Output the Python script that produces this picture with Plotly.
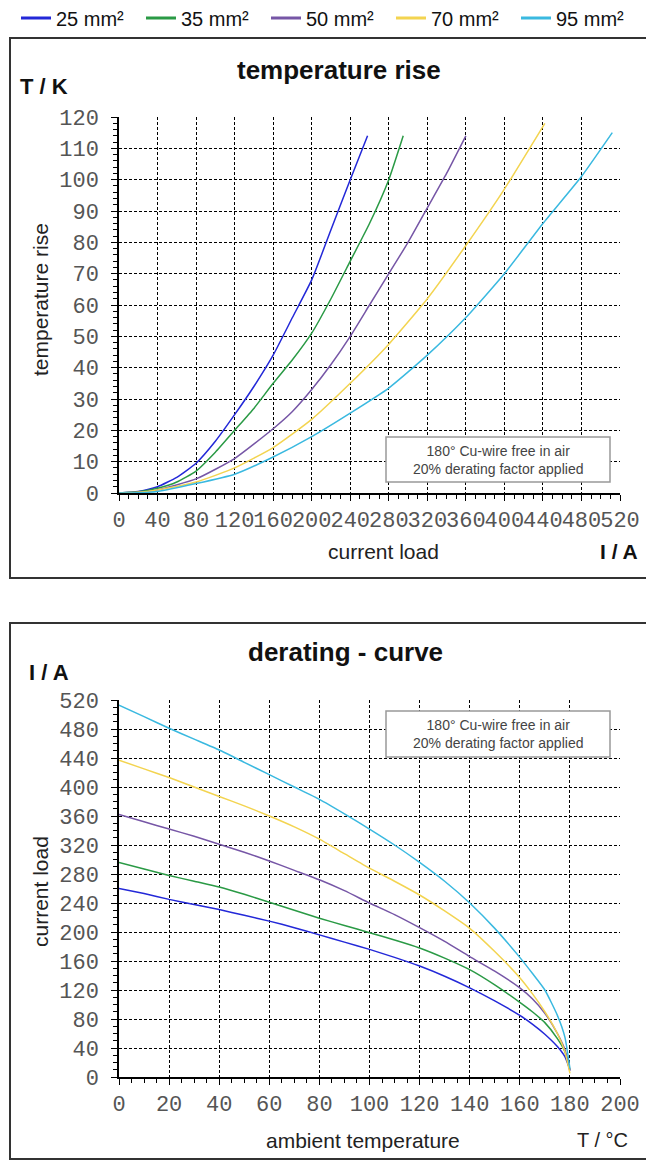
import plotly.graph_objects as go

# ---------------- data ----------------
series_names = ["25 mm²", "35 mm²", "50 mm²", "70 mm²", "95 mm²"]
series_colors = ["#2328d8", "#2a9a45", "#7656a6", "#f3d450", "#3ab9e0"]

# temperature rise (K) vs current load (A)
rise_25_x = [0, 20, 40, 60, 80, 100, 120, 140, 160, 180, 200, 220, 240, 258]
rise_25_y = [0, 0.5, 2, 5, 9.5, 16.5, 25, 34, 44, 56, 68, 84, 100, 114]
rise_35_x = [0, 20, 40, 60, 80, 100, 120, 140, 160, 180, 200, 220, 240, 260, 280, 295]
rise_35_y = [0, 0.4, 1.5, 3.5, 7, 13, 20, 27, 35, 42.5, 51, 62, 74, 86, 100, 114]
rise_50_x = [0, 20, 40, 80, 120, 160, 180, 200, 220, 240, 260, 280, 300, 320, 340, 360]
rise_50_y = [0, 0.2, 1, 4.5, 11, 20.5, 26, 33, 41, 50, 60, 70, 80, 91, 102, 114]
rise_70_x = [0, 20, 40, 80, 120, 160, 200, 240, 280, 320, 360, 400, 442]
rise_70_y = [0, 0.2, 1, 3.5, 8, 14.5, 23.5, 35, 47.5, 62, 79, 97, 118]
rise_95_x = [0, 20, 40, 80, 120, 160, 200, 240, 280, 320, 360, 400, 440, 480, 512]
rise_95_y = [0, 0.1, 0.5, 3, 6, 11.5, 18, 25.5, 33.5, 44, 56, 70, 86, 101, 115]

# derating: current load (A) vs ambient temperature (°C)
derate_t = [0, 10, 20, 30, 40, 50, 60, 70, 80, 90, 100, 110, 120, 130, 140, 150, 160, 165, 170, 175, 178, 180]
derate_25 = [260, 253, 245, 238, 231, 223, 215, 206, 196, 186, 176, 165, 153, 139, 123, 105, 85, 73, 59, 42, 28, 10]
derate_35 = [296, 287, 278, 270, 262, 252, 241, 230, 219, 209, 199, 189, 178, 164, 148, 127, 103, 90, 75, 53, 35, 10]
derate_50 = [362, 352, 342, 332, 321, 310, 298, 285, 272, 257, 240, 224, 206, 187, 166, 146, 123, 108, 88, 60, 38, 8]
derate_70 = [437, 425, 413, 400, 387, 374, 360, 345, 328, 308, 288, 270, 251, 229, 205, 173, 137, 115, 90, 60, 35, 5]
derate_95 = [513, 497, 481, 466, 451, 434, 417, 400, 383, 363, 342, 320, 296, 270, 240, 205, 165, 143, 120, 85, 55, 12]

top_x_ticks = list(range(0, 521, 40))
top_y_ticks = list(range(0, 121, 10))
bot_x_ticks = list(range(0, 201, 20))
bot_y_ticks = list(range(0, 521, 40))

note_text = "180° Cu-wire free in air<br>20% derating factor applied"

# ---------------- figure ----------------
W, H = 654, 1163
OFF = 8  # page body margin
def px(x):
    return (x - OFF) / W
def py(y):
    return 1 - (y - OFF) / H

fig = go.Figure()

rise_sets = [(rise_25_x, rise_25_y), (rise_35_x, rise_35_y), (rise_50_x, rise_50_y),
             (rise_70_x, rise_70_y), (rise_95_x, rise_95_y)]
derate_sets = [derate_25, derate_35, derate_50, derate_70, derate_95]

for name, col, (xs, ys) in zip(series_names, series_colors, rise_sets):
    fig.add_trace(go.Scatter(x=xs, y=ys, mode="lines", line=dict(color=col, width=1.5, shape="spline", smoothing=0.5),
                             showlegend=False, xaxis="x", yaxis="y"))
for name, col, ys in zip(series_names, series_colors, derate_sets):
    fig.add_trace(go.Scatter(x=derate_t, y=ys, mode="lines", line=dict(color=col, width=1.5, shape="spline", smoothing=0.5),
                             showlegend=False, xaxis="x2", yaxis="y2"))
# legend entries
for name, col in zip(series_names, series_colors):
    fig.add_trace(go.Scatter(x=[None], y=[None], mode="lines", name=name,
                             line=dict(color=col, width=3), xaxis="x", yaxis="y"))

tickfont = dict(family="Liberation Mono", size=22, color="#555")
common_axis = dict(showline=True, linecolor="black", linewidth=1.5, zeroline=False,
                   showgrid=True, gridcolor="black", gridwidth=1, griddash="3px,2px",
                   ticks="outside", ticklen=6, tickcolor="black", tickwidth=1,
                   tickfont=tickfont, tickangle=0, automargin=False, fixedrange=True)

x_dom = [px(119), px(620)]
fig.update_layout(
    width=W, height=H, margin=dict(l=0, r=0, t=0, b=0, autoexpand=False),
    paper_bgcolor="white", plot_bgcolor="white",
    font=dict(family="Liberation Sans", color="#222"),
    xaxis=dict(domain=x_dom, anchor="y", range=[0, 520], tickvals=top_x_ticks,
               minor=dict(dtick=10, ticks="outside", ticklen=4, tickcolor="black", showgrid=False),
               **common_axis),
    yaxis=dict(domain=[py(493), py(117)], anchor="x", range=[0, 120], tickvals=top_y_ticks,
               ticklabelstandoff=8,
               minor=dict(dtick=2, ticks="outside", ticklen=4, tickcolor="black", showgrid=False),
               **common_axis),
    xaxis2=dict(domain=x_dom, anchor="y2", range=[0, 200], tickvals=bot_x_ticks,
                minor=dict(dtick=5, ticks="outside", ticklen=4, tickcolor="black", showgrid=False),
                **common_axis),
    yaxis2=dict(domain=[py(1077), py(700)], anchor="x2", range=[0, 520], tickvals=bot_y_ticks,
                ticklabelstandoff=8,
                minor=dict(dtick=10, ticks="outside", ticklen=4, tickcolor="black", showgrid=False),
                **common_axis),
    legend=dict(orientation="h", x=px(16), y=py(18), xanchor="left", yanchor="middle",
                font=dict(family="Liberation Sans", size=20, color="#111"),
                entrywidth=80, entrywidthmode="pixels", itemclick=False,
                bgcolor="rgba(0,0,0,0)", tracegroupgap=0),
)

shapes = [
    dict(type="rect", xref="paper", yref="paper", x0=px(10), x1=px(650), y0=py(578), y1=py(38),
         line=dict(color="#333", width=2)),
    dict(type="rect", xref="paper", yref="paper", x0=px(10), x1=px(650), y0=py(1159), y1=py(623),
         line=dict(color="#333", width=2)),
    dict(type="rect", xref="paper", yref="paper", x0=px(386), x1=px(610), y0=py(482), y1=py(437),
         line=dict(color="#999", width=1.5), fillcolor="white"),
    dict(type="rect", xref="paper", yref="paper", x0=px(386), x1=px(610), y0=py(757), y1=py(711),
         line=dict(color="#999", width=1.5), fillcolor="white"),
]
fig.update_layout(shapes=shapes)

def ann(x, y, text, size, bold=False, xanchor="center", angle=0, color="#222"):
    t = f"<b>{text}</b>" if bold else text
    return dict(xref="paper", yref="paper", x=px(x), y=py(y), text=t, showarrow=False,
                xanchor=xanchor, yanchor="middle", textangle=angle,
                font=dict(family="Liberation Sans", size=size, color=color))

annotations = [
    ann(339, 70, "temperature rise", 26, bold=True, color="#111"),
    ann(18, 86, "T / K", 22, bold=True, xanchor="left", color="#111"),
    ann(40, 300, "temperature rise", 21, angle=-90),
    ann(383, 551, "current load", 21),
    ann(640, 551, "I / A", 21, bold=True, xanchor="right", color="#111"),
    ann(498, 460, note_text, 14, color="#444"),
    ann(345, 652, "derating - curve", 26, bold=True, color="#111"),
    ann(27, 672, "I / A", 22, bold=True, xanchor="left", color="#111"),
    ann(40, 892, "current load", 21, angle=-90),
    ann(363, 1140, "ambient temperature", 21),
    ann(630, 1140, "T / °C", 20, xanchor="right"),
    ann(498, 734, note_text, 14, color="#444"),
]
fig.update_layout(annotations=annotations)

fig.write_html("out.html")
